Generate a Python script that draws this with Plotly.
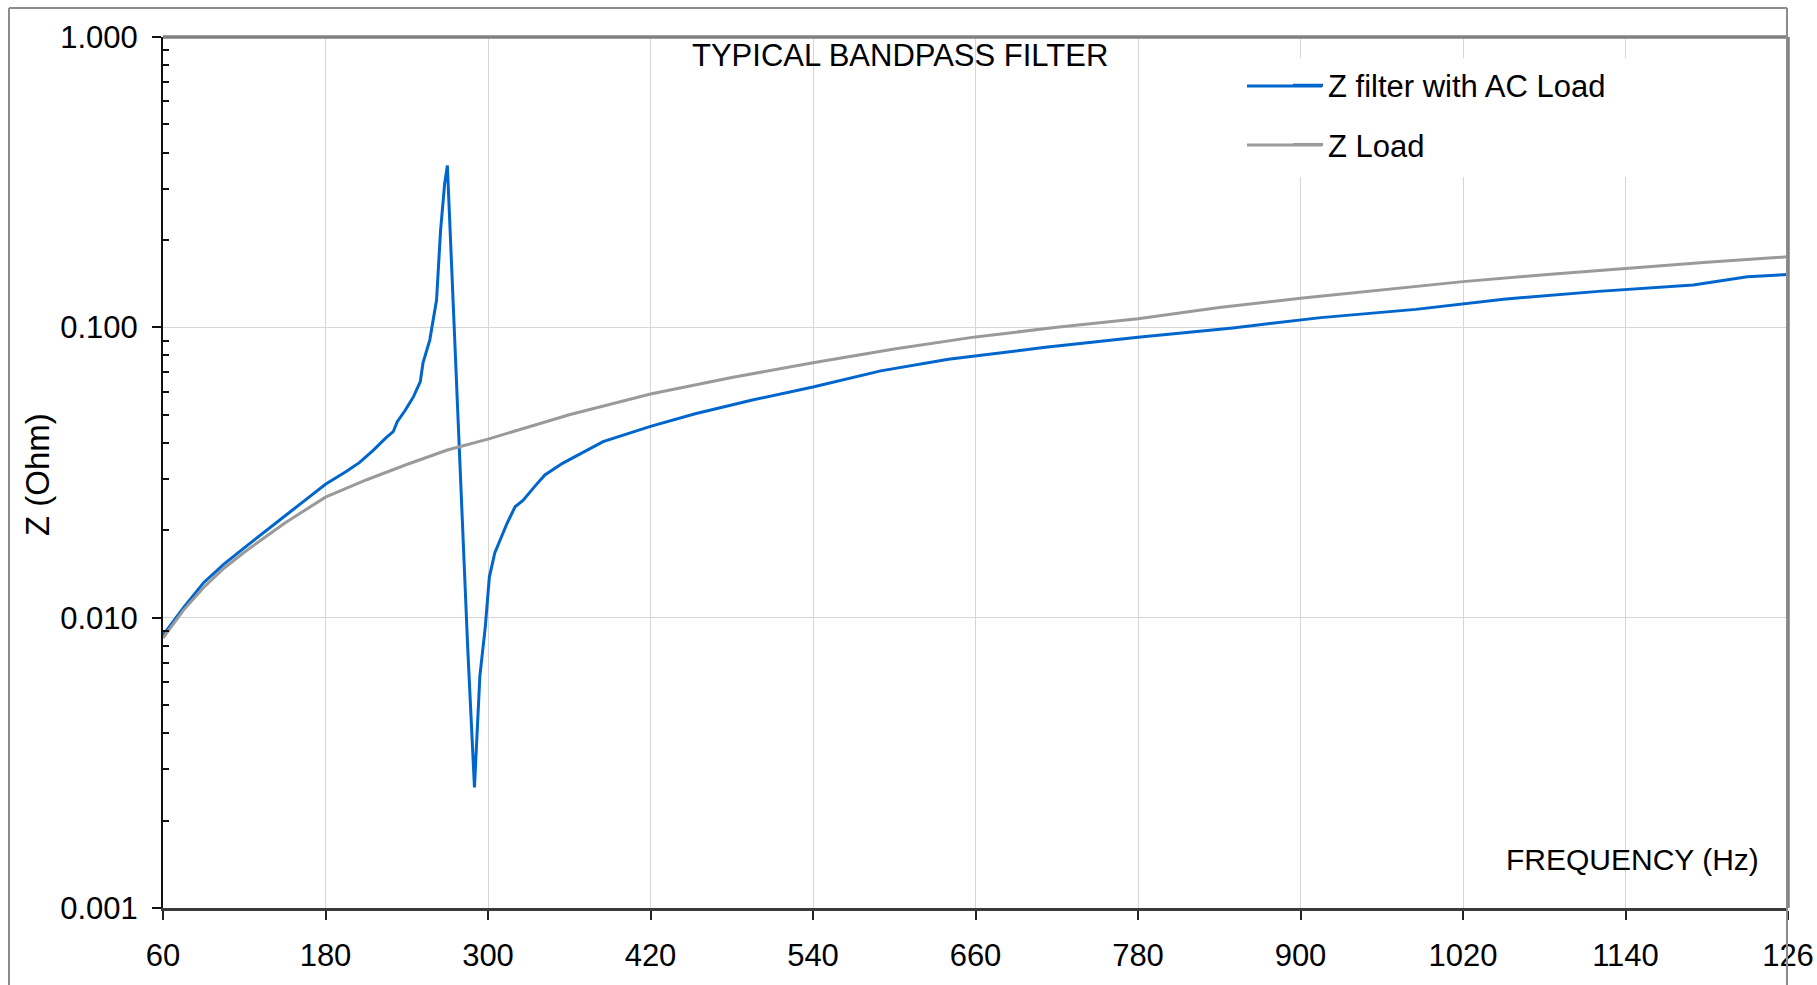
import plotly.graph_objects as go

# ---------------- data ----------------
load_freq = [60, 75, 90, 105, 120, 150, 180, 210, 240, 270, 300, 360, 420,
             480, 540, 600, 660, 720, 780, 840, 900, 960, 1020, 1080, 1140,
             1200, 1260]
load_z = [0.0085, 0.0106, 0.0127, 0.0148, 0.0168, 0.0212, 0.0260, 0.0298,
          0.0337, 0.0378, 0.0412, 0.0500, 0.0589, 0.0672, 0.0755, 0.0842,
          0.0927, 0.1000, 0.1071, 0.1170, 0.1259, 0.1348, 0.1437, 0.1517,
          0.1597, 0.1676, 0.1750]

filter_freq = [60, 75, 90, 105, 120, 135, 150, 165, 180, 195, 205, 215, 225,
               230, 233, 239, 245, 250, 252, 257, 262, 265, 268, 270, 275,
               280, 285, 290, 294, 298, 301, 305, 310, 314, 320, 326, 335,
               342, 355, 368, 385, 420, 453, 496, 540, 590, 640, 710, 780,
               850, 915, 985, 1050, 1120, 1190, 1230, 1260]
filter_z = [0.0087, 0.0108, 0.0132, 0.0153, 0.0174, 0.0198, 0.0224, 0.0254,
            0.0288, 0.0318, 0.0342, 0.0376, 0.0418, 0.0437, 0.0473, 0.0519,
            0.0577, 0.0650, 0.0754, 0.0904, 0.1242, 0.2164, 0.3130, 0.3610,
            0.1010, 0.0260, 0.0079, 0.0026, 0.0063, 0.0093, 0.0138, 0.0167,
            0.0190, 0.0211, 0.0241, 0.0254, 0.0285, 0.0310, 0.0340, 0.0366,
            0.0404, 0.0456, 0.0504, 0.0563, 0.0623, 0.0708, 0.0776, 0.0852,
            0.0925, 0.0995, 0.1080, 0.1153, 0.1250, 0.1330, 0.1400, 0.1494,
            0.1520]

x_ticks = [60, 180, 300, 420, 540, 660, 780, 900, 1020, 1140, 1260]
# the last label is shown cut to "126" in the original picture
x_tick_text = ["60", "180", "300", "420", "540", "660", "780", "900",
               "1020", "1140", "126"]
y_ticks = [0.001, 0.01, 0.1, 1.0]
y_tick_text = ["0.001", "0.010", "0.100", "1.000"]
minor_y = [m * 10 ** e for e in (-3, -2, -1) for m in range(2, 10)]

series_names = ["Z filter with AC Load", "Z Load"]
series_colors = ["#0066CC", "#9A9A9A"]
title_text = "TYPICAL BANDPASS FILTER"
x_title = "FREQUENCY (Hz)"
y_title = "Z (Ohm)"

# ---------------- figure ----------------
W, H = 1817, 985
ML, MR, MT, MB = 163, 29, 37, 77
PW, PH = W - ML - MR, H - MT - MB


def px(xp):
    return (xp - ML) / PW


def py(yp):
    return (H - MB - yp) / PH


FONT = "Liberation Sans, Arial, sans-serif"

fig = go.Figure()
fig.add_trace(go.Scatter(x=filter_freq, y=filter_z, mode="lines",
                         name=series_names[0], legendgroup="a",
                         line=dict(color=series_colors[0], width=3)))
fig.add_trace(go.Scatter(x=load_freq, y=load_z, mode="lines",
                         name=series_names[1], legendgroup="b",
                         line=dict(color=series_colors[1], width=3)))

fig.update_layout(
    template="none",
    width=W, height=H,
    margin=dict(l=ML, r=MR, t=MT, b=MB, pad=0),
    paper_bgcolor="white", plot_bgcolor="white",
    font=dict(family=FONT, size=31, color="black"),
    showlegend=True,
    legend=dict(x=px(1288), y=py(58.5), xanchor="left", yanchor="top",
                bgcolor="rgba(0,0,0,0)", borderwidth=0,
                font=dict(family=FONT, size=31, color="black"),
                tracegroupgap=16, traceorder="grouped"),
    xaxis=dict(type="linear", range=[60, 1260], automargin=False,
               tickmode="array", tickvals=x_ticks, ticktext=x_tick_text,
               ticks="outside", ticklen=9, tickwidth=1.5, tickcolor="#222",
               showline=True, linecolor="#3a3a3a", linewidth=2.5,
               showgrid=True, gridcolor="#d6d6d6", gridwidth=1,
               zeroline=False, ticklabelstandoff=9,
               ticklabeloverflow="allow",
               tickfont=dict(size=31)),
    yaxis=dict(type="log", range=[-3, 0], automargin=False,
               tickmode="array", tickvals=y_ticks, ticktext=y_tick_text,
               ticks="outside", ticklen=9, tickwidth=1.5, tickcolor="#111",
               showline=True, linecolor="#111", linewidth=2,
               showgrid=True, gridcolor="#d6d6d6", gridwidth=1,
               zeroline=False, ticklabelstandoff=8,
               ticklabeloverflow="allow",
               tickfont=dict(size=31),
               minor=dict(tickmode="array", tickvals=minor_y, ticks="inside",
                          ticklen=6, tickwidth=1.5, tickcolor="#111",
                          showgrid=False)),
)

annotations = [
    dict(text=title_text, x=px(900), y=py(55), xref="paper", yref="paper",
         xanchor="center", yanchor="middle", showarrow=False,
         font=dict(family=FONT, size=31, color="black")),
    dict(text=x_title, x=px(1761), y=py(859), xref="paper", yref="paper",
         xanchor="right", yanchor="middle", showarrow=False,
         font=dict(family=FONT, size=30, color="black")),
    dict(text=y_title, x=px(37), y=py(475), xref="paper", yref="paper",
         xanchor="center", yanchor="middle", showarrow=False, textangle=-90,
         font=dict(family=FONT, size=33, color="black")),
]
fig.update_layout(annotations=annotations)

shapes = [
    # legend background (hides gridlines behind the key)
    dict(type="rect", xref="paper", yref="paper", x0=px(1236), x1=px(1640),
         y0=py(177), y1=py(58), line=dict(width=0), fillcolor="white",
         layer="above"),
    # longer legend key lines, as in the original
    dict(type="line", xref="paper", yref="paper", x0=px(1247), x1=px(1322),
         y0=py(86), y1=py(86), line=dict(color=series_colors[0], width=3),
         layer="above"),
    dict(type="line", xref="paper", yref="paper", x0=px(1247), x1=px(1322),
         y0=py(145), y1=py(145), line=dict(color=series_colors[1], width=3),
         layer="above"),
    # plot frame top and right (grey, thick)
    dict(type="line", xref="paper", yref="paper", x0=0, x1=1, y0=1, y1=1,
         line=dict(color="#808080", width=3.5), layer="above"),
    dict(type="line", xref="paper", yref="paper", x0=1, x1=1, y0=0, y1=1,
         line=dict(color="#808080", width=3.5), layer="above"),
    # outer chart-area border
    dict(type="line", xref="paper", yref="paper", x0=px(9), x1=px(9),
         y0=py(8), y1=py(1000), line=dict(color="#8c8c8c", width=2),
         layer="above"),
    dict(type="line", xref="paper", yref="paper", x0=px(9), x1=px(1787),
         y0=py(8), y1=py(8), line=dict(color="#8c8c8c", width=2),
         layer="above"),
    dict(type="line", xref="paper", yref="paper", x0=px(1787), x1=px(1787),
         y0=py(8), y1=py(1000), line=dict(color="#8c8c8c", width=2),
         layer="above"),
]
fig.update_layout(shapes=shapes)

fig.write_html("out.html", config={"displayModeBar": False},
               post_script="document.body.style.margin='0';")
